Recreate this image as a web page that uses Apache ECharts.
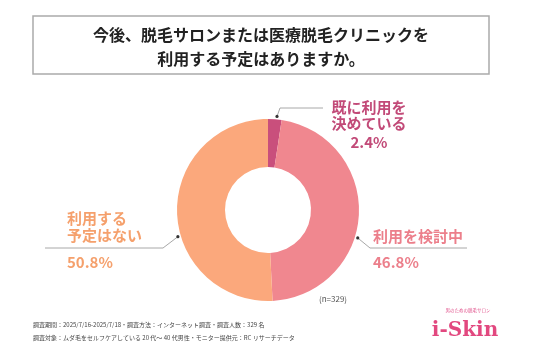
<!DOCTYPE html>
<html><head><meta charset="utf-8">
<script src="https://cdn.jsdelivr.net/npm/echarts@6/dist/echarts.min.js"></script>
<style>html,body{margin:0;padding:0;background:#fff}#c{width:536px;height:357px}</style>
</head><body><div id="c"></div>
<script>
// ---- data ----
const categories = ['既に利用を決めている', '利用を検討中', '利用する予定はない'];
const values = [2.4, 46.8, 50.8];
const labelLines = [['既に利用を', '決めている'], ['利用を検討中'], ['利用する', '予定はない']];
const titleLines = ['今後、脱毛サロンまたは医療脱毛クリニックを', '利用する予定はありますか。'];
const sampleNote = '(n=329)';
const footerLines = [
  '調査期間：2025/7/16-2025/7/18・調査方法：インターネット調査・調査人数：329 名',
  '調査対象：ムダ毛をセルフケアしている 20 代～ 40 代男性・モニター提供元：RC リサーチデータ'
];

// ---- styles / layout ----
const FONT = '"Noto Sans CJK JP", "Noto Sans", sans-serif';
const sliceColors = ['#c94f7c', '#f0878f', '#fba87c'];
const labelColors = ['#c24a78', '#ec7f8b', '#f5a06c'];
const CX = 268, CY = 210, R_IN = 43, R_OUT = 91;
const anchorAngle = [5.5, 107.3, 253.5]; // degrees clockwise from top
const anchorR = 94;
function anchor(i) {
  const a = anchorAngle[i] * Math.PI / 180;
  return [CX + anchorR * Math.sin(a), CY - anchorR * Math.cos(a)];
}
const labelPlacement = [
  {x: 369, y: 99.5, align: 'center', verticalAlign: 'top', elbow: [280, 108], end: [323, 108]},
  {x: 373, y: 249, align: 'left', verticalAlign: 'middle', elbow: [370, 248], end: [467, 248]},
  {x: 67, y: 209.5, align: 'left', verticalAlign: 'top', elbow: [163, 248], end: [45, 248]}
];

function fmt(params) {
  const i = params.dataIndex;
  const lines = labelLines[i];
  const pct = params.value.toFixed(1) + '%';
  if (i === 0) return lines.map(s => '{t1|' + s + '}').join('\n') + '\n{t3|' + pct + '}';
  if (i === 1) return '{r1|' + lines[0] + '}\n{r1|' + pct + '}';
  return lines.map(s => '{l1|' + s + '}').join('\n') + '\n{l3|' + pct + '}';
}

function richFor(color) {
  const base = {fontFamily: FONT, fontWeight: 'bold', fontSize: 15, color: color};
  return {
    t1: Object.assign({}, base, {lineHeight: 16}),
    t3: Object.assign({}, base, {lineHeight: 21}),
    r1: Object.assign({}, base, {lineHeight: 26}),
    l1: Object.assign({}, base, {lineHeight: 17}),
    l3: Object.assign({}, base, {lineHeight: 37})
  };
}

const chart = echarts.init(document.getElementById('c'), null, {renderer: 'canvas'});

const dots = values.map((v, i) => {
  const p = anchor(i);
  return {type: 'circle', shape: {cx: p[0], cy: p[1], r: 1.6}, style: {fill: '#333'}, silent: true, z: 100};
});

chart.setOption({
  animation: false,
  backgroundColor: '#fff',
  graphic: [
    {type: 'rect', shape: {x: 33, y: 16, width: 456, height: 58}, style: {fill: 'none', stroke: '#aaa', lineWidth: 1.5}, z: -1, silent: true},
    {type: 'text', x: 261, y: 35, style: {text: titleLines[0], fontFamily: FONT, fontWeight: 'bold', fontSize: 16, fill: '#222', align: 'center', verticalAlign: 'middle'}},
    {type: 'text', x: 261, y: 59, style: {text: titleLines[1], fontFamily: FONT, fontWeight: 'bold', fontSize: 16, fill: '#222', align: 'center', verticalAlign: 'middle'}},
    {type: 'text', x: 333, y: 299, style: {text: sampleNote, fontFamily: FONT, fontSize: 8, fill: '#555', align: 'center', verticalAlign: 'middle'}},
    {type: 'text', x: 33, y: 325, style: {text: footerLines[0], fontFamily: FONT, fontSize: 6, fill: '#444', verticalAlign: 'middle'}},
    {type: 'text', x: 33, y: 338, style: {text: footerLines[1], fontFamily: FONT, fontSize: 6, fill: '#444', verticalAlign: 'middle'}},
    {type: 'text', x: 468, y: 310, style: {text: '男のための脱毛サロン', fontFamily: FONT, fontSize: 4.5, fill: '#e0508a', align: 'center', verticalAlign: 'middle'}},
    {type: 'text', x: 465, y: 331, style: {text: 'i-Skin', fontFamily: '"DejaVu Serif", serif', fontWeight: 'bold', fontSize: 20, fill: '#e2487f', stroke: '#fff', lineWidth: 1, align: 'center', verticalAlign: 'middle'}}
  ].concat(dots),
  series: [{
    type: 'pie',
    center: [CX, CY],
    radius: [R_IN, R_OUT],
    startAngle: 90,
    clockwise: true,
    avoidLabelOverlap: false,
    emphasis: {disabled: true},
    itemStyle: {borderWidth: 0},
    label: {show: true, position: 'outside', formatter: fmt},
    labelLine: {show: true, lineStyle: {color: '#a8a8a8', width: 1}},
    labelLayout: function (params) {
      const i = params.dataIndex;
      const pl = labelPlacement[i];
      return {
        x: pl.x, y: pl.y, align: pl.align, verticalAlign: pl.verticalAlign,
        labelLinePoints: [anchor(i), pl.elbow, pl.end]
      };
    },
    data: categories.map((name, i) => ({
      name: name,
      value: values[i],
      itemStyle: {color: sliceColors[i]},
      label: {rich: richFor(labelColors[i]), align: labelPlacement[i].align}
    }))
  }]
});
</script>
</body></html>
